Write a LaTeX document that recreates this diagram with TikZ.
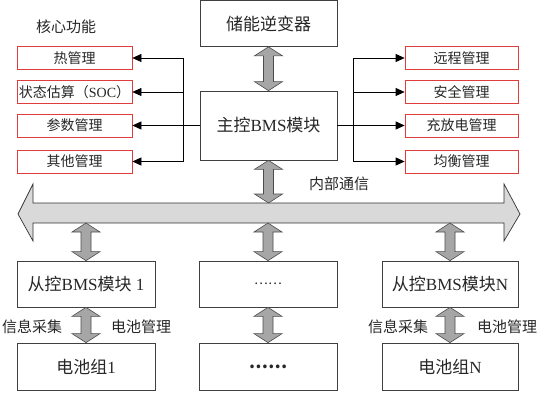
\documentclass[tikz,border=0pt]{standalone}
\usepackage{fontspec}
\setmainfont{Liberation Serif}
\newfontfamily\cjk{Noto Sans CJK SC}
\usetikzlibrary{arrows.meta,calc}

\definecolor{boxred}{HTML}{E03C3C}
\definecolor{fatgray}{HTML}{A6A6A6}
\definecolor{busgray}{HTML}{D9D9D9}

% fat double arrow from #1 (upper end) down to #2
\newcommand{\fatlink}[2]{%
  \path[draw=black!70,fill=fatgray,line width=0.6pt] let \p1=#1, \p2=#2 in
    (\x1,\y1) -- (\x1+14pt,\y1-9pt) -- (\x1+5pt,\y1-9pt) -- (\x1+5pt,\y2+9pt)
    -- (\x1+14pt,\y2+9pt) -- (\x1,\y2) -- (\x1-14pt,\y2+9pt) -- (\x1-5pt,\y2+9pt)
    -- (\x1-5pt,\y1-9pt) -- (\x1-14pt,\y1-9pt) -- cycle;}

\begin{document}
\begin{tikzpicture}[x=1pt,y=-1pt,
  box/.style={draw=black!75,line width=0.7pt,minimum width=137pt,minimum height=46pt,
    inner sep=0pt,text=black!85,font=\fontsize{17}{20}\selectfont},
  func/.style={draw=boxred,line width=0.7pt,minimum width=115pt,minimum height=23pt,
    inner sep=0pt,text=black!85,font=\fontsize{14}{16}\selectfont\cjk},
  lbl/.style={inner sep=0pt,text=black!85,font=\fontsize{15}{17}\selectfont\cjk},
  link/.style={line width=0.7pt,-{Triangle[length=9pt,width=8pt]}}]

  \useasboundingbox (0,0) rectangle (554,401);

  % master and inverter
  \node[box] (inv) at (268.5,23.5) {\cjk 储能逆变器};
  \node[box,minimum height=69pt] (main) at (268.5,125.5) {{\cjk 主控}BMS{\cjk 模块}};

  % core functions
  \node[lbl] (core) at (66,27) {核心功能};
  \node[func] (heat) at (74.5,58) {热管理};
  \node[func] (soc) at (74.5,92) {状态估算（{\rmfamily SOC}）};
  \node[func] (param) at (74.5,125.5) {参数管理};
  \node[func] (other) at (74.5,161.5) {其他管理};

  \node[func,minimum width=113pt] (remote) at (461.5,58) {远程管理};
  \node[func,minimum width=113pt] (safety) at (461.5,92) {安全管理};
  \node[func,minimum width=113pt] (charge) at (461.5,125.5) {充放电管理};
  \node[func,minimum width=113pt] (balance) at (461.5,161.5) {均衡管理};

  \coordinate (lj) at (183,0);
  \coordinate (rj) at (353,0);
  \draw[line width=0.7pt] (main.west) -- (main.west -| lj);
  \draw[line width=0.7pt] (heat.east -| lj) -- (other.east -| lj);
  \foreach \f in {heat,soc,param,other}
    \draw[link] (\f.east -| lj) -- (\f.east);
  \draw[line width=0.7pt] (main.east) -- (main.east -| rj);
  \draw[line width=0.7pt] (remote.west -| rj) -- (balance.west -| rj);
  \foreach \f in {remote,safety,charge,balance}
    \draw[link] (\f.west -| rj) -- (\f.west);

  % internal bus
  \coordinate (busl) at (18,214);
  \coordinate (busr) at (520,214);
  \coordinate (bustop) at (0,203);
  \coordinate (busbot) at (0,223);
  \draw[fill=busgray,draw=black!80,line width=0.7pt] (busl) -- (33,184) -- (33,203)
    -- (504,203) -- (504,184) -- (busr) -- (504,241) -- (504,223) -- (33,223)
    -- (33,241) -- cycle;
  \node[lbl] (comm) at (339,184) {内部通信};

  % slaves and battery packs
  \node[box,minimum width=138pt] (s1) at (86,284) {{\cjk 从控}BMS{\cjk 模块} 1};
  \node[box,minimum width=138pt] (sm) at (268,284) {\fontsize{13}{15}\selectfont\cjk ……};
  \node[box,minimum width=136pt] (sn) at (450,284) {{\cjk 从控}BMS{\cjk 模块}N};
  \node[box,minimum width=138pt,minimum height=47pt] (b1) at (86,366.5) {{\cjk 电池组}1};
  \node[box,minimum width=138pt,minimum height=47pt] (bm) at (268,366.5) {\fontsize{17}{20}\selectfont\cjk\bfseries ……};
  \node[box,minimum width=136pt,minimum height=47pt] (bn) at (450,366.5) {{\cjk 电池组}N};

  \node[lbl] (acq1) at (32,327) {信息采集};
  \node[lbl] (mgmt1) at (141,327) {电池管理};
  \node[lbl] (acqn) at (398,327) {信息采集};
  \node[lbl] (mgmtn) at (507,327) {电池管理};

  % fat links
  \fatlink{(inv.south)}{(main.north)}
  \fatlink{(main.south)}{(main.south |- bustop)}
  \foreach \k in {1,m,n}{
    \fatlink{(s\k.north |- busbot)}{(s\k.north)}
    \fatlink{(s\k.south)}{(b\k.north)}
  }
\end{tikzpicture}
\end{document}
